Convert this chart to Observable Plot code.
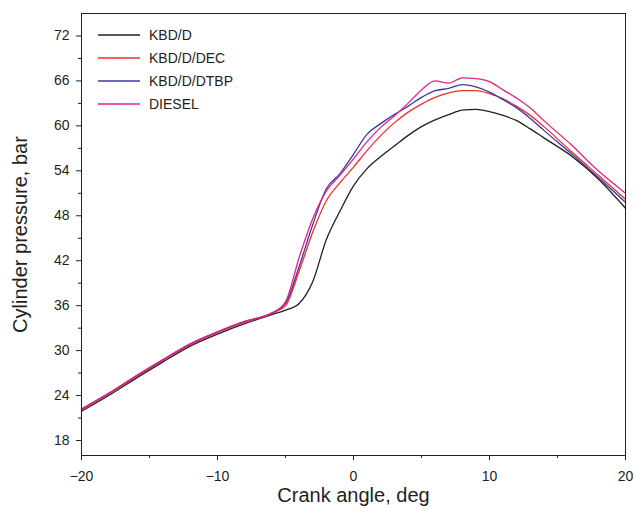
<!DOCTYPE html>
<html><head><meta charset="utf-8">
<script src="https://cdn.jsdelivr.net/npm/d3@7"></script>
<script src="https://cdn.jsdelivr.net/npm/@observablehq/plot@0.6"></script>
<style>
body{margin:0;background:#fff;font-family:Arial,"Liberation Sans",sans-serif;}
#wrap{position:relative;width:635px;height:522px;}
#legend{position:absolute;left:98px;top:24px;font-size:14px;color:#231f20;line-height:1}
.item{display:flex;align-items:center;height:22.8px}
.item svg{margin-right:9px;display:block}
</style></head><body><div id="wrap"><div id="legend"></div></div>
<script>
const angles = [-20,-18,-16,-14,-12,-10,-8,-6,-5,-4,-3,-2,-1,0,1,2,3,4,5,6,7,8,9,10,11,12,13,14,16,18,20];
const kbdD = [21.9,24.0,26.3,28.5,30.6,32.2,33.6,34.8,35.4,36.3,39.2,44.8,48.6,52.0,54.3,55.9,57.3,58.7,59.9,60.8,61.5,62.1,62.2,61.9,61.4,60.7,59.6,58.4,56.0,52.9,49.0];
const kbdDDec = [22.1,24.2,26.5,28.7,30.8,32.4,33.8,35.0,36.0,40.6,45.8,50.0,52.4,54.5,56.7,58.7,60.4,61.8,62.9,63.8,64.4,64.7,64.7,64.3,63.6,62.6,61.4,59.9,56.6,53.4,50.2];
const kbdDDtbp = [22.2,24.3,26.6,28.8,30.9,32.5,33.9,35.0,36.3,41.2,46.8,51.6,53.6,56.2,58.9,60.3,61.5,62.6,63.8,64.7,65.0,65.5,65.2,64.5,63.5,62.4,61.0,59.4,56.3,53.1,49.8];
const diesel = [22.2,24.3,26.6,28.8,30.9,32.5,33.9,35.0,36.5,42.4,47.6,51.3,53.4,55.6,57.9,59.8,61.3,63.0,64.8,66.0,65.7,66.4,66.3,65.9,64.8,63.7,62.4,60.7,57.5,54.0,51.0];
const seriesNames = ["KBD/D","KBD/D/DEC","KBD/D/DTBP","DIESEL"];
const seriesColors = ["#231f20","#ec3228","#3a3a9e","#e3218d"];
const xTicks = [-20,-10,0,10,20];
const xMinor = [-15,-5,5,15];
const yTicks = [18,24,30,36,42,48,54,60,66,72];
const yMinor = [21,27,33,39,45,51,57,63,69];

const seriesValues = [kbdD, kbdDDec, kbdDDtbp, diesel];
const rows = seriesValues.flatMap((vals, s) => angles.map((a, i) => ({series: seriesNames[s], angle: a, p: vals[i]})));
const ink = "#231f20";

const chart = Plot.plot({
  width: 635, height: 522,
  marginLeft: 81, marginRight: 10, marginTop: 13, marginBottom: 67,
  style: {fontFamily: "Arial, 'Liberation Sans', sans-serif", color: ink, background: "#fff"},
  x: {domain: [-20, 20]},
  y: {domain: [16, 75]},
  color: {domain: seriesNames, range: seriesColors},
  marks: [
    Plot.line(rows, {x: "angle", y: "p", stroke: "series", z: "series", strokeWidth: 1.3, curve: "monotone-x"}),
    Plot.frame({stroke: ink, strokeWidth: 1}),
    Plot.axisX({ticks: xTicks, tickSize: 5, tickPadding: 11, fontSize: 14, label: null, stroke: ink}),
    Plot.axisX({ticks: xMinor, tickSize: 3, tickFormat: () => "", label: null, stroke: ink}),
    Plot.axisY({ticks: yTicks, tickSize: 5, tickPadding: 7, fontSize: 14, label: null, stroke: ink}),
    Plot.axisY({ticks: yMinor, tickSize: 3, tickFormat: () => "", label: null, stroke: ink}),
    Plot.text(["Crank angle, deg"], {frameAnchor: "bottom", dy: 40, lineAnchor: "middle", textAnchor: "middle", fontSize: 20, fill: ink}),
    Plot.text(["Cylinder pressure, bar"], {frameAnchor: "left", dx: -61, rotate: -90, lineAnchor: "middle", textAnchor: "middle", fontSize: 20, fill: ink})
  ]
});
const wrap = document.getElementById("wrap");
wrap.insertBefore(chart, wrap.firstChild);

const legend = document.getElementById("legend");
seriesNames.forEach((name, i) => {
  const item = document.createElement("div");
  item.className = "item";
  item.innerHTML = `<svg width="42" height="4"><line x1="0" x2="42" y1="2" y2="2" stroke="${seriesColors[i]}" stroke-width="1.6"/></svg><span>${name}</span>`;
  legend.appendChild(item);
});
</script>
</body></html>
